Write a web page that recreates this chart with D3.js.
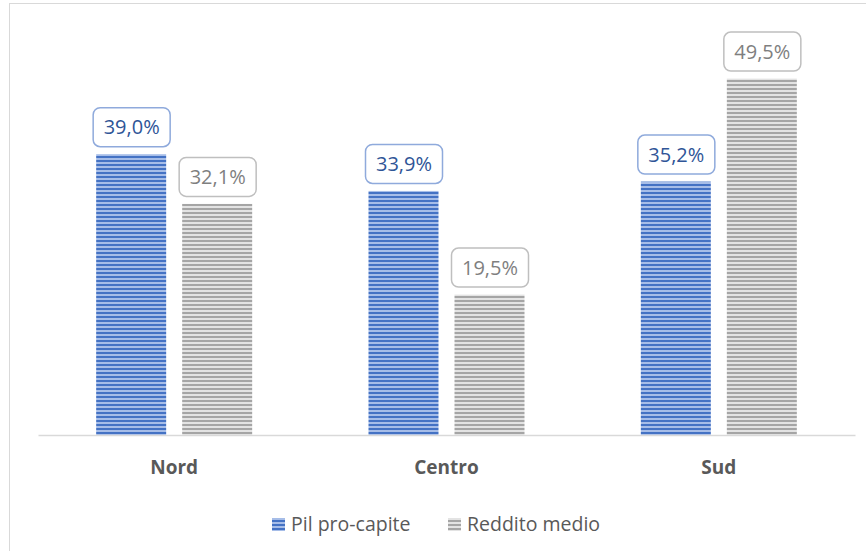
<!DOCTYPE html>
<html><head><meta charset="utf-8">
<script src="https://cdn.jsdelivr.net/npm/d3@7/dist/d3.min.js"></script>
<style>body{margin:0;background:#fff}svg{display:block}</style>
</head><body>
<svg id="c" width="866" height="551"></svg>
<script>
const categories = ["Nord", "Centro", "Sud"];
const seriesNames = ["Pil pro-capite", "Reddito medio"];
const pil = [39.0, 33.9, 35.2];
const reddito = [32.1, 19.5, 49.5];

const svg = d3.select("#c");
const font = "'Open Sans', 'Liberation Sans', sans-serif";

// chart frame
svg.append("rect").attr("x", 9.5).attr("y", 3.5).attr("width", 880).attr("height", 600)
  .attr("fill", "#fff").attr("stroke", "#d9d9d9").attr("stroke-width", 1);

const defs = svg.append("defs");
function stripe(id, dark, light) {
  const p = defs.append("pattern").attr("id", id).attr("patternUnits", "userSpaceOnUse")
    .attr("width", 8).attr("height", 4);
  p.append("rect").attr("width", 8).attr("height", 4).attr("fill", light);
  p.append("rect").attr("y", 0).attr("width", 8).attr("height", 2).attr("fill", dark);
}
stripe("pBlue", "#4472C4", "#A6BDE8");
stripe("pGray", "#A5A5A5", "#E3E3E3");

const x0 = d3.scaleBand().domain(categories).range([38, 855]).paddingInner(0).paddingOuter(0);
const y = d3.scaleLinear().domain([0, 60]).range([435, 3]);

const series = [
  { name: seriesNames[0], values: pil, fill: "url(#pBlue)", text: "#2F5597", box: "#8FAADC" },
  { name: seriesNames[1], values: reddito, fill: "url(#pGray)", text: "#7F7F7F", box: "#BFBFBF" }
];

const bw = 70;
const gap = 16;
categories.forEach((c, i) => {
  const cx = x0(c) + x0.bandwidth() / 2;
  series.forEach((s, j) => {
    const bx = cx - (bw * 2 + gap) / 2 + j * (bw + gap);
    const v = s.values[i];
    svg.append("rect").attr("x", bx).attr("y", y(v)).attr("width", bw)
      .attr("height", y(0) - y(v)).attr("fill", s.fill);
    const label = v.toFixed(1).replace(".", ",") + "%";
    const bh = 39, bwid = 77;
    const by = y(v) - 8 - bh;
    svg.append("rect").attr("x", bx + bw / 2 - bwid / 2 + 0.5).attr("y", by + 0.5)
      .attr("width", bwid).attr("height", bh).attr("rx", 7)
      .attr("fill", "#fff").attr("stroke", s.box).attr("stroke-width", 1.5);
    svg.append("text").attr("x", bx + bw / 2 + 0.5).attr("y", by + bh / 2 + 7.5)
      .attr("text-anchor", "middle").attr("font-family", font).attr("font-size", 20)
      .attr("fill", s.text).text(label);
  });
});

// axis
const axis = svg.append("g").attr("transform", "translate(0,435)")
  .call(d3.axisBottom(x0).tickSize(0).tickPadding(0));
axis.select(".domain").attr("stroke", "#d9d9d9").attr("stroke-width", 1.5);
axis.selectAll("text").attr("y", 39).attr("dy", 0).attr("font-family", font)
  .attr("font-size", 19).attr("font-weight", "bold").attr("fill", "#595959");

// legend
const legend = svg.append("g");
const items = [
  { name: seriesNames[0], fill: "url(#pBlue)", x: 272 },
  { name: seriesNames[1], fill: "url(#pGray)", x: 448 }
];
items.forEach(it => {
  legend.append("rect").attr("x", it.x).attr("y", 518).attr("width", 13).attr("height", 13).attr("fill", it.fill);
  legend.append("text").attr("x", it.x + 19).attr("y", 531).attr("font-family", font)
    .attr("font-size", 19.5).attr("fill", "#595959").text(it.name);
});
</script>
</body></html>
